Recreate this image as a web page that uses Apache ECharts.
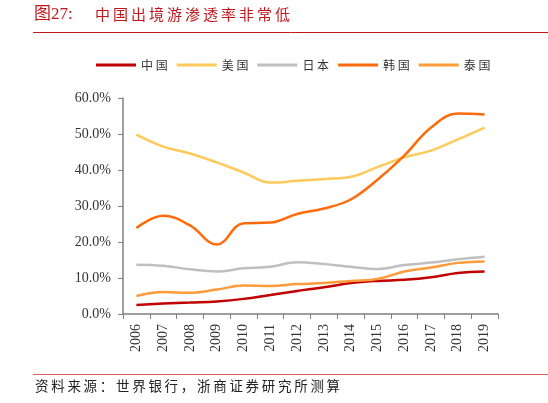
<!DOCTYPE html>
<html><head><meta charset="utf-8">
<script src="https://cdn.jsdelivr.net/npm/echarts@6/dist/echarts.min.js"></script>
<style>html,body{margin:0;padding:0;background:#fff}#c{width:548px;height:403px}</style>
</head><body><div id="c"></div>
<script>
var years = ['2006','2007','2008','2009','2010','2011','2012','2013','2014','2015','2016','2017','2018','2019'];
var china    = [2.5, 2.9, 3.2, 3.5, 4.2, 5.3, 6.4, 7.4, 8.6, 9.2, 9.5, 10.2, 11.4, 11.8];
var usa      = [49.8, 46.5, 44.6, 42.1, 39.3, 36.5, 37.0, 37.5, 38.1, 40.8, 43.5, 45.4, 48.5, 51.8];
var japan    = [13.7, 13.4, 12.4, 11.8, 12.7, 13.1, 14.4, 13.9, 13.1, 12.5, 13.6, 14.3, 15.2, 15.9];
var korea    = [23.9, 27.3, 24.6, 19.3, 25.2, 25.4, 27.8, 29.3, 31.8, 37.3, 44.0, 51.8, 55.7, 55.4];
var thailand = [5.0, 6.1, 5.9, 6.8, 7.9, 7.8, 8.3, 8.6, 9.2, 9.7, 11.8, 12.9, 14.2, 14.6];
var yTicks = [0, 10, 20, 30, 40, 50, 60];

function spaced(s, sp) { return s.split('').join(sp); }
var chart = echarts.init(document.getElementById('c'));
function mk(name, data, color) {
  return {name: name, type: 'line', data: data, smooth: 0.4, symbol: 'none',
    lineStyle: {color: color, width: 2.5}, itemStyle: {color: color}};
}
chart.setOption({
  animation: false,
  graphic: [
    {type: 'text', left: 34, top: 6, style: {text: '图27:', fill: '#C0161C', font: '17px "Liberation Serif", "Noto Sans CJK SC"'}},
    {type: 'text', left: 95, top: 7, style: {text: spaced('中国出境游渗透率非常低', '\u2009'), fill: '#C0161C', font: '15px "Noto Sans CJK SC"'}},
    {type: 'line', shape: {x1: 33, y1: 32.5, x2: 548, y2: 32.5}, style: {stroke: '#C0161C', lineWidth: 1}},
    {type: 'line', shape: {x1: 33, y1: 374.5, x2: 548, y2: 374.5}, style: {stroke: '#E06060', lineWidth: 1}},
    {type: 'text', left: 35, top: 379, style: {text: spaced('资料来源：世界银行，浙商证券研究所测算', '\u2009'), fill: '#222', font: '13.5px "Noto Sans CJK SC"'}}
  ],
  legend: {
    top: 54, left: 91, itemWidth: 40, itemHeight: 3, itemGap: 9,
    icon: 'rect',
    textStyle: {fontFamily: '"Noto Sans CJK SC"', fontSize: 12, color: '#333'},
    formatter: function (n) { return n.split('').join(' '); },
    data: ['中国', '美国', '日本', '韩国', '泰国']
  },
  grid: {left: 123, right: 50, top: 98, bottom: 89},
  xAxis: {
    type: 'category', data: years, boundaryGap: true,
    axisLine: {lineStyle: {color: '#808080', width: 1.5}},
    axisTick: {show: true, length: 5, lineStyle: {color: '#808080'}},
    axisLabel: {rotate: 90, color: '#333', fontFamily: '"Liberation Serif"', fontSize: 14, margin: 10}
  },
  yAxis: {
    type: 'value', min: yTicks[0], max: yTicks[yTicks.length - 1], interval: 10,
    axisLine: {show: true, lineStyle: {color: '#808080', width: 1.5}},
    axisTick: {show: true, length: 5, lineStyle: {color: '#808080'}},
    splitLine: {show: false},
    axisLabel: {color: '#333', fontFamily: '"Liberation Serif"', fontSize: 14, margin: 12,
      formatter: function (v) { return v.toFixed(1) + '%'; }}
  },
  series: [
    mk('中国', china, '#C00000'),
    mk('美国', usa, '#FFC95C'),
    mk('日本', japan, '#BFBFBF'),
    mk('韩国', korea, '#FF6A0A'),
    mk('泰国', thailand, '#FF9B3A')
  ]
});
</script></body></html>
